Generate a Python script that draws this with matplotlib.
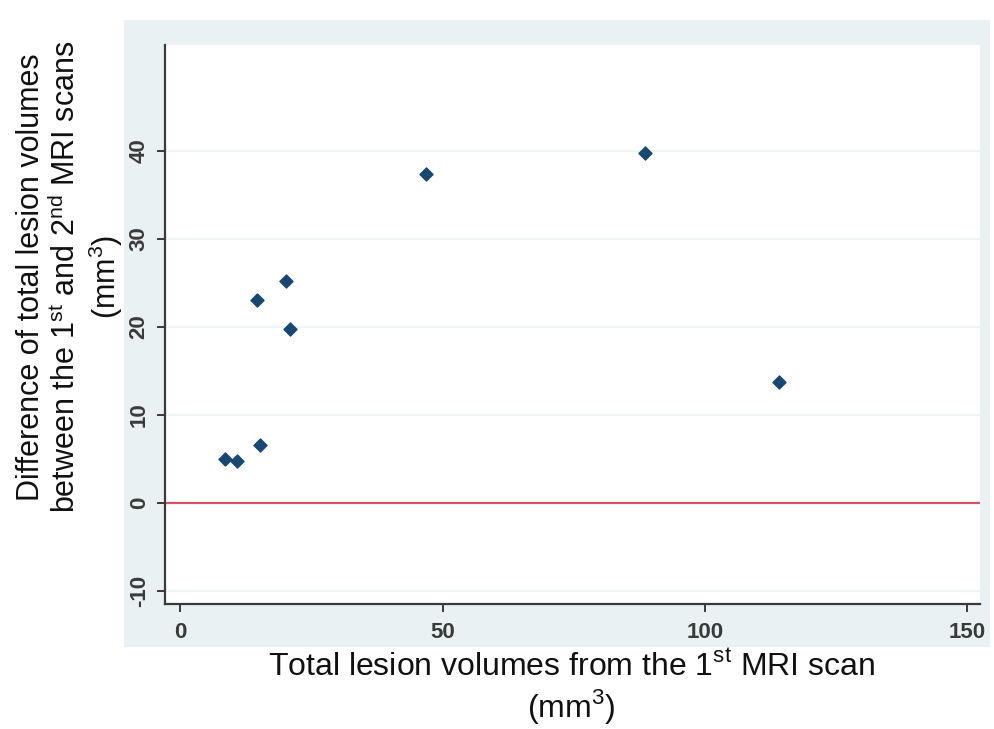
import matplotlib.pyplot as plt
from matplotlib.patches import Rectangle

plt.rcParams['font.family'] = ['Liberation Sans', 'DejaVu Sans']
plt.rcParams['mathtext.fontset'] = 'custom'
plt.rcParams['mathtext.rm'] = 'Liberation Sans'
plt.rcParams['axes.unicode_minus'] = False

# data
volume_1st = [8.6, 10.9, 15.2, 14.7, 20.2, 21.0, 46.9, 88.6, 114.1]
difference = [5.0, 4.8, 6.6, 23.0, 25.2, 19.7, 37.4, 39.7, 13.7]
x_ticks = [0, 50, 100, 150]
y_ticks = [-10, 0, 10, 20, 30, 40]

fig = plt.figure(figsize=(9.94, 7.29), dpi=100)

# light blue-grey graph region (Stata style)
fig.patches.append(Rectangle((0.1247, 0.1125), 0.8713, 0.86, transform=fig.transFigure,
                             facecolor='#e9f1f2', edgecolor='none', zorder=-1))

ax = fig.add_axes([0.166, 0.1715, 0.82, 0.7665])
ax.set_zorder(1)
ax.set_facecolor('white')

ax.axhline(0, color='#d6516c', lw=1.6, zorder=2)
ax.scatter(volume_1st, difference, marker='D', s=44, color='#1a476f', zorder=3)

ax.set_xlim(-2.9, 152.4)
ax.set_ylim(-11.5, 52)
ax.set_xticks(x_ticks)
ax.set_yticks(y_ticks)
ax.grid(axis='y', color='#edf3f3', lw=1.2)
ax.set_axisbelow(True)

for s in ['top', 'right']:
    ax.spines[s].set_visible(False)
for s in ['left', 'bottom']:
    ax.spines[s].set_color('#3a3a3a')
    ax.spines[s].set_linewidth(1.6)

ax.tick_params(axis='both', length=6, width=1.4, color='#3a3a3a',
               labelsize=16, labelcolor='#3a3a3a')
ax.tick_params(axis='y', labelrotation=90, pad=5)
for lab in ax.get_yticklabels() + ax.get_xticklabels():
    lab.set_fontweight('bold')
for lab in ax.get_yticklabels():
    lab.set_va('center')
ax.tick_params(axis='x', pad=7)

fig.text(0.575, 0.004,
         'Total lesion volumes from the 1$^{\\mathregular{st}}$ MRI scan\n(mm$^{\\mathregular{3}}$)',
         ha='center', va='bottom', fontsize=23, color='#111111', linespacing=1.15)
fig.text(0.071, 0.62,
         'Difference of total lesion volumes\nbetween the 1$^{\\mathregular{st}}$ and 2$^{\\mathregular{nd}}$ MRI scans\n(mm$^{\\mathregular{3}}$)',
         ha='center', va='center', rotation=90, fontsize=22, color='#111111',
         linespacing=1.15, multialignment='center')

plt.savefig('out.png', dpi=100)
plt.close()
